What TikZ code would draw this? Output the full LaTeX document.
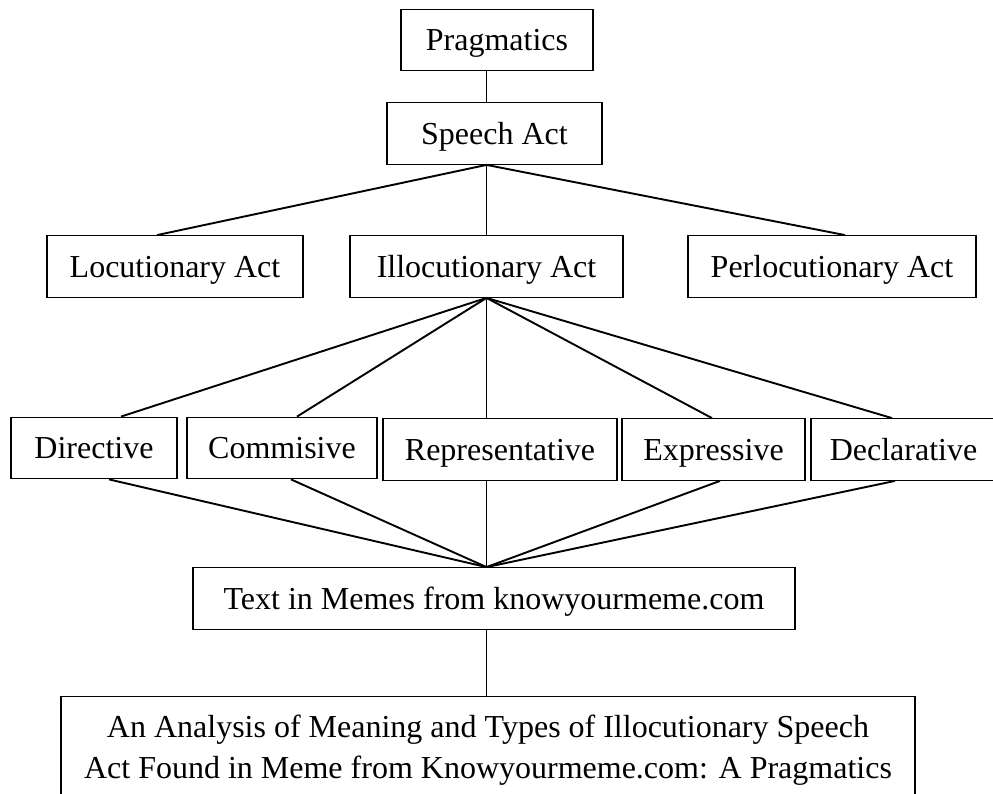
\documentclass[tikz,border=0pt]{standalone}
\usepackage{fontspec}
\setmainfont{Liberation Serif}
\usepackage{tikz}
\tikzstyle{actbox} = [draw=black, line width=1.3pt, fill=white,
    rectangle, inner sep=0pt, minimum height=61.5pt,
    text height=21.2pt, text depth=0pt, font=\fontsize{32}{40}\selectfont]
\tikzstyle{titlebox} = [draw=black, line width=1.3pt, fill=white,
    rectangle, inner xsep=0pt, inner ysep=18.7pt, align=center,
    font=\fontsize{32}{41}\selectfont]
\tikzstyle{link} = [draw=black, line width=1.9pt]

\begin{document}
\begin{tikzpicture}[x=1pt, y=-1pt]
\useasboundingbox [fill=white] (0,0) rectangle (993,794);
\node [actbox, minimum width=192pt] (prag) at (497,40) {Pragmatics};
\node [actbox, minimum width=215pt] (speech) at (494.5,133.5) {Speech Act};
\node [actbox, minimum width=256pt] (locu) at (175,266.5) {Locutionary Act};
\node [actbox, minimum width=273pt] (illo) at (486.5,266.5) {Illocutionary Act};
\node [actbox, minimum width=288pt] (perlo) at (832,266.5) {Perlocutionary Act};
\node [actbox, minimum width=166pt] (dir) at (94,448) {Directive};
\node [actbox, minimum width=190pt] (com) at (282,448) {Commisive};
\node [actbox, minimum width=234pt] (rep) at (500,449.5) {Representative};
\node [actbox, minimum width=183pt] (expr) at (713.5,449.5) {Expressive};
\node [actbox, minimum width=185pt] (decl) at (903.5,449.5) {Declarative};
\node [actbox, minimum width=602pt] (memes) at (494,598.5) {Text in Memes from knowyourmeme.com};
\node [titlebox, minimum width=854pt, anchor=north] (title) at (488,696) {
    An Analysis of Meaning and Types of Illocutionary Speech\\
    Act Found in Meme from Knowyourmeme.com: A Pragmatics
};
% trunk
\draw [link] (prag.south -| illo.north) -- (speech.north -| illo.north);
\draw [link] (speech.south -| illo.north) -- ([xshift=-18pt]locu.north);
\draw [link] (speech.south -| illo.north) -- (illo.north);
\draw [link] (speech.south -| illo.north) -- ([xshift=13pt]perlo.north);
% types of illocutionary act
\draw [link] (illo.south) -- ([xshift=27pt]dir.north);
\draw [link] (illo.south) -- ([xshift=15pt]com.north);
\draw [link] (illo.south) -- (rep.north -| illo.south);
\draw [link] (illo.south) -- ([xshift=-1.5pt]expr.north);
\draw [link] (illo.south) -- ([xshift=-11.5pt]decl.north);
% into the memes
\draw [link] ([xshift=15pt]dir.south) -- (memes.north -| illo.north);
\draw [link] ([xshift=9pt]com.south) -- (memes.north -| illo.north);
\draw [link] (rep.south -| illo.north) -- (memes.north -| illo.north);
\draw [link] ([xshift=6.5pt]expr.south) -- (memes.north -| illo.north);
\draw [link] ([xshift=-8.5pt]decl.south) -- (memes.north -| illo.north);
\draw [link] (memes.south -| illo.north) -- (title.north -| illo.north);
\end{tikzpicture}
\end{document}
